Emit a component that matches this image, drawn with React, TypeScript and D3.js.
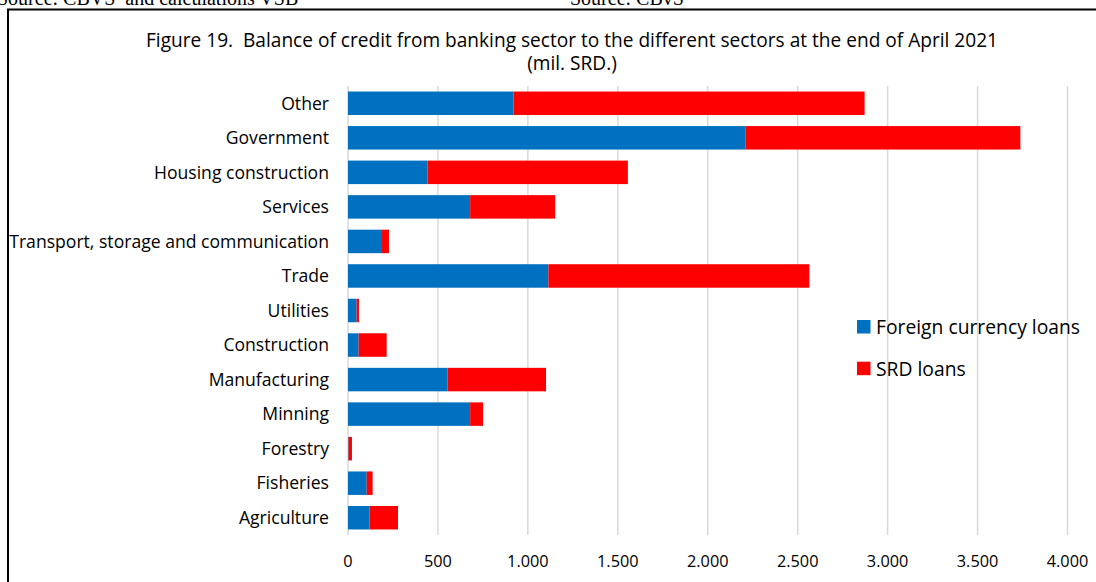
import React from "react";
import * as d3 from "d3";

const categories = [
  "Other",
  "Government",
  "Housing construction",
  "Services",
  "Transport, storage and communication",
  "Trade",
  "Utilities",
  "Construction",
  "Manufacturing",
  "Minning",
  "Forestry",
  "Fisheries",
  "Agriculture",
];
const foreignLoans = [920, 2209, 443, 679, 184, 1114, 48, 59, 553, 679, 3, 104, 120];
const srdLoans = [1952, 1529, 1113, 473, 44, 1451, 13, 156, 548, 72, 19, 33, 158];
const xTicks = [0, 500, 1000, 1500, 2000, 2500, 3000, 3500, 4000];
const seriesNames = ["Foreign currency loans", "SRD loans"];
const seriesColors = ["#0070C0", "#FF0000"];

const fmt = (v: number) => d3.format(",")(v).replace(/,/g, ".");

export default function App() {
  const W = 1096;
  const H = 582;
  const font = "'Open Sans', Lato, sans-serif";
  const x = d3.scaleLinear().domain([0, 4000]).range([348, 1067.5]);
  const y = d3
    .scaleBand<string>()
    .domain(categories)
    .range([86, 535])
    .paddingInner(0.32)
    .paddingOuter(0.16);

  const stacked = d3
    .stack<number>()
    .keys(["0", "1"])
    .value((i, k) => (k === "0" ? foreignLoans[i] : srdLoans[i]))(
    categories.map((_, i) => i)
  );

  return (
    <svg
      width={W}
      height={H}
      style={{ position: "absolute", left: 0, top: 0, background: "#fff" }}
      fontFamily={font}
    >
      <text x={-3} y={4.5} fontFamily="'Liberation Serif', 'Times New Roman', serif" fontSize={20} fill="#000" style={{ whiteSpace: "pre" }}>
        Source: CBVS  and calculations VSB
      </text>
      <text x={570} y={4.5} fontFamily="'Liberation Serif', 'Times New Roman', serif" fontSize={20} fill="#000">
        Source: CBvS
      </text>
      <path d={`M8,${H + 5} L8,9.5 L${W + 5},9.5`} fill="none" stroke="#000" strokeWidth={2} />

      <text x={572} y={47} textAnchor="middle" fontSize={19.1} fill="#000" style={{ whiteSpace: "pre" }}>
        Figure 19.  Balance of credit from banking sector to the different sectors at the end of April 2021
      </text>
      <text x={572} y={70} textAnchor="middle" fontSize={19.1} fill="#000">
        (mil. SRD.)
      </text>

      {xTicks.map((t) => (
        <g key={t}>
          <line x1={x(t)} x2={x(t)} y1={86} y2={535} stroke="#d9d9d9" strokeWidth={1.5} />
          <text x={x(t)} y={566.5} textAnchor="middle" fontSize={16.3} fill="#000">
            {fmt(t)}
          </text>
        </g>
      ))}

      {stacked.map((s, si) => (
        <g key={si} fill={seriesColors[si]}>
          {s.map((d, i) => (
            <rect
              key={i}
              x={x(d[0])}
              y={y(categories[i])!}
              width={Math.max(0, x(d[1]) - x(d[0]))}
              height={y.bandwidth()}
            />
          ))}
        </g>
      ))}

      {categories.map((c) => (
        <text
          key={c}
          x={329}
          y={y(c)! + y.bandwidth() / 2 + 6.3}
          textAnchor="end"
          fontSize={17.6}
          fill="#000"
        >
          {c}
        </text>
      ))}

      {seriesNames.map((n, i) => (
        <g key={n}>
          <rect x={857} y={320 + i * 41.7} width={13.5} height={13.5} fill={seriesColors[i]} />
          <text x={876} y={334 + i * 41.7} fontSize={19.3} fill="#000">
            {n}
          </text>
        </g>
      ))}
    </svg>
  );
}
